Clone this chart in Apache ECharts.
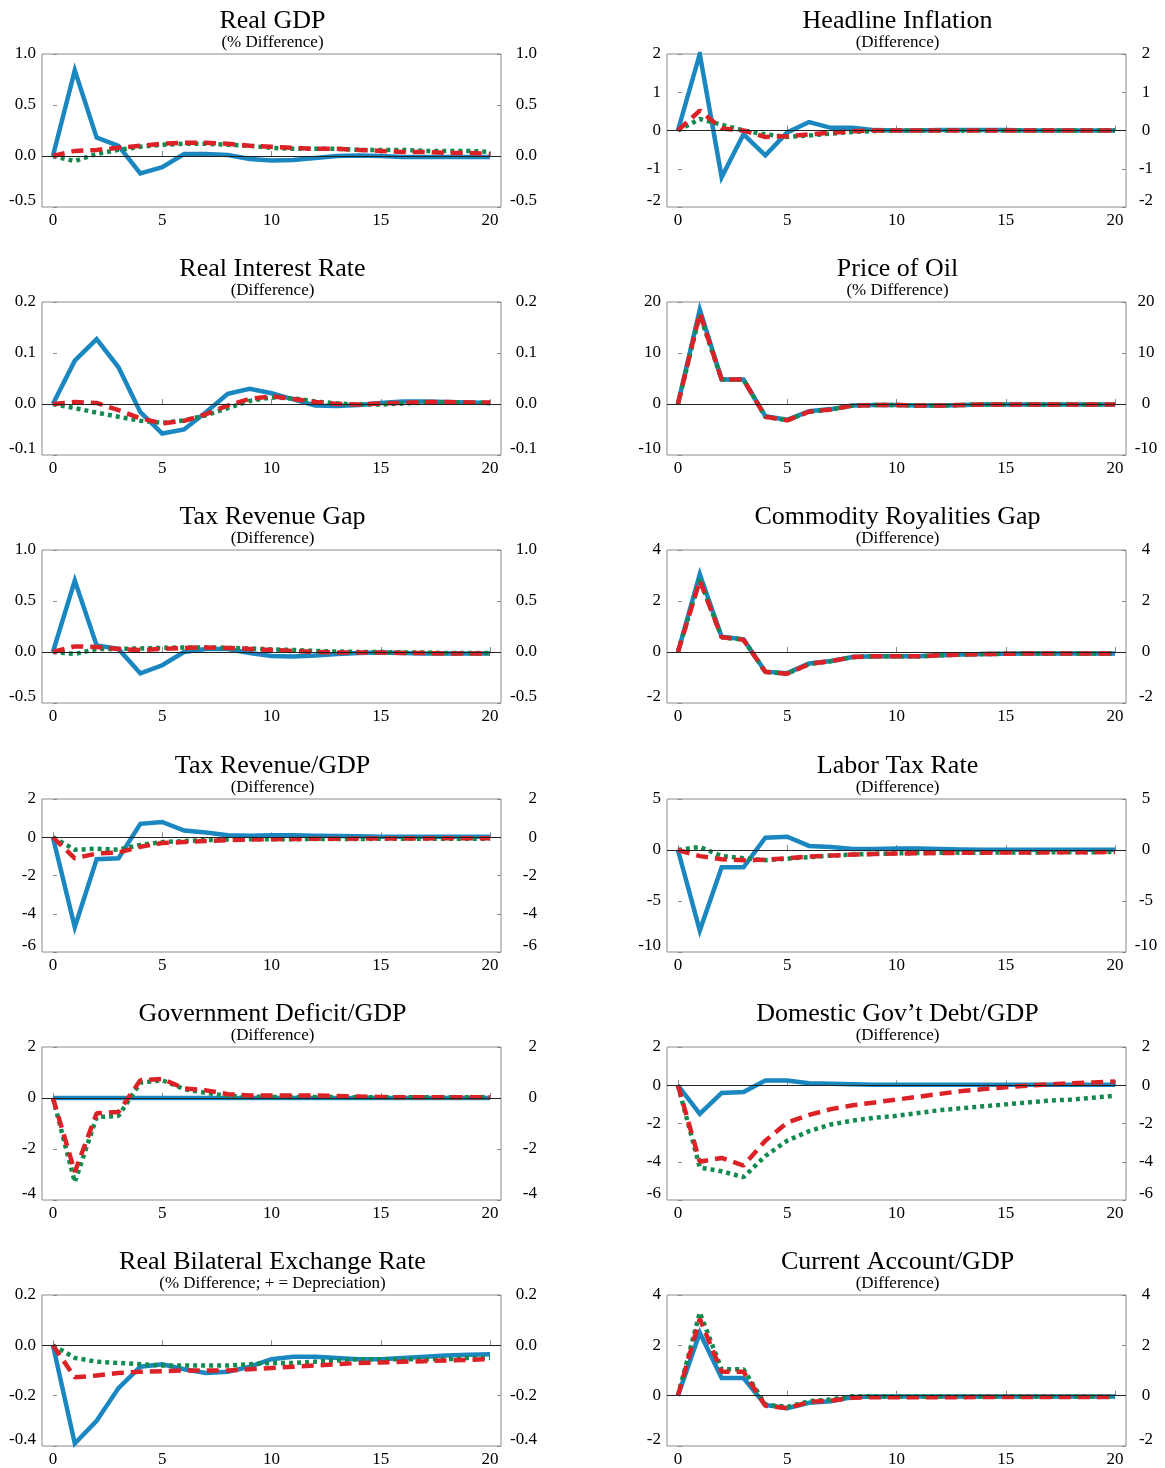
<!DOCTYPE html>
<html><head><meta charset="utf-8">
<script src="https://cdn.jsdelivr.net/npm/echarts@6/dist/echarts.min.js"></script>
<style>html,body{margin:0;padding:0;background:#fff}#c{width:1165px;height:1468px}</style>
</head><body><div id="c"></div>
<script>
const periods = [0,1,2,3,4,5,6,7,8,9,10,11,12,13,14,15,16,17,18,19,20];
const xTicks = [0,5,10,15,20];

const titles = ['Real GDP','Headline Inflation','Real Interest Rate','Price of Oil','Tax Revenue Gap','Commodity Royalities Gap','Tax Revenue/GDP','Labor Tax Rate','Government Deficit/GDP','Domestic Gov\u2019t Debt/GDP','Real Bilateral Exchange Rate','Current Account/GDP'];
const subtitles = ['(% Difference)','(Difference)','(Difference)','(% Difference)','(Difference)','(Difference)','(Difference)','(Difference)','(Difference)','(Difference)','(% Difference; + = Depreciation)','(Difference)'];
const yMins = [-0.5,-2,-0.1,-10,-0.5,-2,-6,-10,-4,-6,-0.4,-2];
const yMaxs = [1.0,2,0.2,20,1.0,4,2,5,2,2,0.2,4];
const ySteps = [0.5,1,0.1,10,0.5,2,2,5,2,2,0.2,2];
const yDecimals = [1,0,1,0,1,0,0,0,0,0,1,0];

// Real GDP
const gdpBlue  = [0,0.84,0.18,0.10,-0.17,-0.11,0.02,0.02,0.01,-0.03,-0.045,-0.04,-0.02,0,0.005,0,-0.01,-0.01,-0.01,-0.01,-0.01];
const gdpRed   = [0,0.05,0.06,0.08,0.10,0.12,0.13,0.13,0.12,0.10,0.09,0.08,0.07,0.07,0.06,0.05,0.04,0.04,0.03,0.03,0.02];
const gdpGreen = [0,-0.05,0.02,0.06,0.09,0.11,0.12,0.12,0.11,0.10,0.08,0.07,0.07,0.07,0.06,0.06,0.06,0.05,0.05,0.05,0.04];
// Headline inflation
const infBlue  = [0,2.0,-1.22,-0.1,-0.65,-0.05,0.22,0.07,0.07,0.01,0,0,0.01,0.01,0.01,0.01,0,0,0,0,0];
const infRed   = [0,0.52,0.05,0,-0.17,-0.15,-0.1,-0.06,-0.02,0,0,0,0,0,0,0,0,0,0,0,0];
const infGreen = [0,0.3,0.15,0,-0.1,-0.17,-0.13,-0.08,-0.04,-0.01,0,0,0,0,0,0,0,0,0,0,0];
// Real interest rate
const rirBlue  = [0,0.085,0.127,0.072,-0.016,-0.058,-0.05,-0.016,0.02,0.03,0.021,0.009,-0.003,-0.004,-0.002,0.002,0.005,0.005,0.004,0.003,0.002];
const rirRed   = [0,0.004,0.002,-0.012,-0.028,-0.038,-0.033,-0.02,-0.003,0.01,0.015,0.01,0.004,0,-0.001,0.001,0.002,0.004,0.004,0.003,0.003];
const rirGreen = [0,-0.008,-0.017,-0.025,-0.033,-0.037,-0.032,-0.022,-0.008,0.006,0.013,0.011,0.005,0.001,-0.001,-0.001,0.001,0.003,0.003,0.003,0.002];
// Price of oil
const oilBlue  = [0,18.5,4.8,4.8,-2.4,-3.1,-1.4,-1.0,-0.3,-0.2,-0.2,-0.3,-0.3,-0.2,-0.1,-0.1,-0.1,-0.1,-0.1,-0.1,-0.1];
const oilRed   = [0,17.8,4.8,4.8,-2.5,-3.2,-1.5,-1.1,-0.3,-0.2,-0.2,-0.3,-0.3,-0.2,-0.1,-0.1,-0.1,-0.1,-0.1,-0.1,-0.1];
const oilGreen = [0,17.5,4.8,4.8,-2.5,-3.2,-1.5,-1.1,-0.3,-0.2,-0.2,-0.3,-0.3,-0.2,-0.1,-0.1,-0.1,-0.1,-0.1,-0.1,-0.1];
// Tax revenue gap
const trgBlue  = [0,0.70,0.065,0.03,-0.21,-0.13,0,0.03,0.03,-0.01,-0.04,-0.045,-0.035,-0.02,-0.01,-0.005,-0.01,-0.015,-0.015,-0.015,-0.015];
const trgRed   = [0,0.055,0.05,0.03,0.02,0.03,0.04,0.045,0.04,0.03,0.02,0.01,0,-0.005,-0.005,-0.005,-0.01,-0.01,-0.015,-0.015,-0.015];
const trgGreen = [0,-0.02,0.03,0.03,0.035,0.04,0.045,0.045,0.04,0.035,0.025,0.02,0.01,0.005,0,0,-0.005,-0.005,-0.01,-0.01,-0.01];
// Commodity royalties gap
const crgBlue  = [0,3.05,0.6,0.5,-0.77,-0.83,-0.45,-0.35,-0.2,-0.17,-0.17,-0.17,-0.13,-0.1,-0.08,-0.07,-0.06,-0.06,-0.06,-0.06,-0.06];
const crgRed   = [0,2.8,0.58,0.48,-0.78,-0.85,-0.47,-0.36,-0.2,-0.17,-0.17,-0.17,-0.13,-0.1,-0.08,-0.07,-0.06,-0.06,-0.06,-0.06,-0.06];
const crgGreen = [0,2.85,0.58,0.48,-0.78,-0.85,-0.47,-0.36,-0.2,-0.17,-0.17,-0.17,-0.13,-0.1,-0.08,-0.07,-0.06,-0.06,-0.06,-0.06,-0.06];
// Tax revenue / GDP
const trBlue   = [0,-4.7,-1.15,-1.1,0.7,0.8,0.35,0.25,0.1,0.08,0.1,0.1,0.08,0.07,0.05,0.03,0.03,0.03,0.03,0.03,0.03];
const trRed    = [0,-1.1,-0.85,-0.8,-0.5,-0.3,-0.25,-0.2,-0.15,-0.12,-0.1,-0.09,-0.08,-0.08,-0.07,-0.07,-0.06,-0.06,-0.05,-0.05,-0.05];
const trGreen  = [0,-0.65,-0.6,-0.65,-0.4,-0.25,-0.2,-0.15,-0.12,-0.1,-0.1,-0.1,-0.09,-0.09,-0.09,-0.08,-0.08,-0.08,-0.08,-0.08,-0.08];
// Labor tax rate
const ltBlue   = [0,-7.9,-1.7,-1.7,1.2,1.3,0.4,0.3,0.1,0.1,0.15,0.15,0.1,0.05,0.03,0.03,0.03,0.03,0.03,0.03,0.03];
const ltRed    = [0,-0.6,-0.9,-1.0,-0.95,-0.8,-0.65,-0.55,-0.45,-0.4,-0.35,-0.32,-0.3,-0.28,-0.26,-0.25,-0.24,-0.23,-0.22,-0.21,-0.2];
const ltGreen  = [0,0.3,-0.6,-0.8,-1.0,-0.85,-0.7,-0.55,-0.45,-0.38,-0.32,-0.3,-0.28,-0.27,-0.26,-0.25,-0.24,-0.23,-0.22,-0.21,-0.2];
// Government deficit / GDP
const gdBlue   = [0,0,0,0,0,0,0,0,0,0,0,0,0,0,0,0,0,0,0,0,0];
const gdRed    = [0,-2.9,-0.6,-0.55,0.7,0.75,0.38,0.3,0.15,0.1,0.1,0.1,0.1,0.08,0.06,0.04,0.03,0.03,0.03,0.03,0.03];
const gdGreen  = [0,-3.3,-0.75,-0.7,0.6,0.7,0.35,0.2,0.08,0.05,0.04,0.04,0.04,0.04,0.03,0.03,0.03,0.03,0.03,0.03,0.03];
// Domestic gov't debt / GDP
const ddBlue   = [0,-1.5,-0.4,-0.35,0.25,0.25,0.1,0.08,0.05,0.03,0.03,0.03,0.03,0.02,0.02,0.02,0.02,0.02,0.02,0.02,0.02];
const ddRed    = [0,-4.0,-3.8,-4.2,-2.9,-1.95,-1.55,-1.25,-1.05,-0.9,-0.75,-0.6,-0.45,-0.3,-0.2,-0.1,-0.02,0.05,0.1,0.15,0.2];
const ddGreen  = [0,-4.3,-4.5,-4.8,-3.7,-2.9,-2.4,-2.05,-1.85,-1.7,-1.6,-1.45,-1.3,-1.2,-1.1,-1.0,-0.9,-0.8,-0.75,-0.65,-0.55];
// Real bilateral exchange rate
const erBlue   = [0,-0.39,-0.3,-0.17,-0.085,-0.075,-0.095,-0.11,-0.105,-0.085,-0.055,-0.045,-0.045,-0.05,-0.055,-0.055,-0.05,-0.045,-0.04,-0.037,-0.035];
const erRed    = [0,-0.127,-0.12,-0.11,-0.105,-0.103,-0.1,-0.1,-0.1,-0.095,-0.09,-0.085,-0.08,-0.075,-0.07,-0.068,-0.065,-0.063,-0.06,-0.058,-0.055];
const erGreen  = [0,-0.05,-0.065,-0.07,-0.075,-0.08,-0.08,-0.08,-0.08,-0.075,-0.07,-0.07,-0.065,-0.06,-0.055,-0.055,-0.055,-0.055,-0.055,-0.05,-0.05];
// Current account / GDP
const caBlue   = [0,2.5,0.7,0.7,-0.37,-0.5,-0.28,-0.22,-0.05,-0.03,-0.03,-0.03,-0.03,-0.03,-0.03,-0.03,-0.03,-0.03,-0.03,-0.03,-0.03];
const caRed    = [0,3.05,0.95,0.95,-0.4,-0.5,-0.25,-0.2,-0.08,-0.06,-0.06,-0.06,-0.06,-0.06,-0.05,-0.05,-0.05,-0.05,-0.05,-0.05,-0.05];
const caGreen  = [0,3.3,1.05,1.05,-0.35,-0.45,-0.22,-0.15,-0.02,-0.03,-0.03,-0.03,-0.03,-0.03,-0.03,-0.03,-0.03,-0.03,-0.03,-0.03,-0.03];

const blueSeries  = [gdpBlue,infBlue,rirBlue,oilBlue,trgBlue,crgBlue,trBlue,ltBlue,gdBlue,ddBlue,erBlue,caBlue];
const redSeries   = [gdpRed,infRed,rirRed,oilRed,trgRed,crgRed,trRed,ltRed,gdRed,ddRed,erRed,caRed];
const greenSeries = [gdpGreen,infGreen,rirGreen,oilGreen,trgGreen,crgGreen,trGreen,ltGreen,gdGreen,ddGreen,erGreen,caGreen];

const FONT = '"Liberation Serif","Times New Roman",serif';
const BLUE = '#1a87c1', RED = '#dc2127', GREEN = '#118b4f', BORDER = '#8a8a8a';
const colLeft = [42, 667];
const PW = 459, PH = 153;

const option = {animation:false, backgroundColor:'#fff', title:[], grid:[], xAxis:[], yAxis:[], series:[]};

for (let i = 0; i < 12; i++) {
  const c = i % 2, r = Math.floor(i / 2);
  const top = Math.round(54 + 248.2 * r);
  const left = colLeft[c];
  const dec = yDecimals[i];
  const yMin = yMins[i];
  const fmt = v => {
    const s = (Math.abs(v) < 1e-9 ? 0 : v).toFixed(dec);
    return Math.abs(v - yMin) < 1e-9 ? '{lo|' + s + '}' : s;
  };
  const rich = {lo: {fontFamily: FONT, fontSize: 17, color: '#000', padding: [0, 0, 12, 0]}};
  option.title.push({
    text: titles[i], subtext: subtitles[i],
    left: left + PW / 2 - 4, top: top - 51, textAlign: 'center', itemGap: 0,
    textStyle: {fontFamily: FONT, fontSize: 26, fontWeight: 'normal', color: '#000'},
    subtextStyle: {fontFamily: FONT, fontSize: 17, color: '#000'}
  });
  option.grid.push({left: left, top: top, width: PW, height: PH, show: true, borderColor: BORDER, borderWidth: 1});
  option.xAxis.push({
    type: 'value', gridIndex: i, min: -0.5, max: 20.5,
    axisLine: {show: false}, splitLine: {show: false},
    axisTick: {show: true, inside: true, length: 5, customValues: xTicks, lineStyle: {color: BORDER}},
    axisLabel: {customValues: xTicks, margin: 5, fontFamily: FONT, fontSize: 17, color: '#000'}
  });
  const yBase = {
    type: 'value', gridIndex: i, min: yMins[i], max: yMaxs[i], interval: ySteps[i],
    axisLine: {show: false}, splitLine: {show: false},
    axisTick: {show: true, inside: true, length: 4, lineStyle: {color: BORDER}}
  };
  option.yAxis.push(Object.assign({}, yBase, {position: 'left',
    axisLabel: {formatter: fmt, rich: rich, margin: 6, fontFamily: FONT, fontSize: 17, color: '#000'}}));
  option.yAxis.push(Object.assign({}, yBase, {position: 'right',
    axisLabel: {formatter: fmt, rich: rich, margin: c === 0 ? 36 : 20, align: c === 0 ? 'right' : 'center', fontFamily: FONT, fontSize: 17, color: '#000'}}));
  const mk = arr => periods.map((p, k) => [p, arr[k]]);
  option.series.push({
    type: 'line', xAxisIndex: i, yAxisIndex: 2 * i, data: mk(blueSeries[i]), symbol: 'none',
    lineStyle: {color: BLUE, width: 4.5, join: 'miter'}, z: 2,
    markLine: {silent: true, symbol: 'none', label: {show: false}, animation: false,
      lineStyle: {color: '#222', width: 1, type: 'solid'}, data: [{yAxis: 0}]}
  });
  option.series.push({
    type: 'line', xAxisIndex: i, yAxisIndex: 2 * i, data: mk(greenSeries[i]), symbol: 'none',
    lineStyle: {color: GREEN, width: 4.5, type: [4, 4], cap: 'butt'}, z: 3
  });
  option.series.push({
    type: 'line', xAxisIndex: i, yAxisIndex: 2 * i, data: mk(redSeries[i]), symbol: 'none',
    lineStyle: {color: RED, width: 4.5, type: [12, 7], cap: 'butt'}, z: 4
  });
}

const chart = echarts.init(document.getElementById('c'), null, {renderer: 'canvas'});
chart.setOption(option);
</script></body></html>
